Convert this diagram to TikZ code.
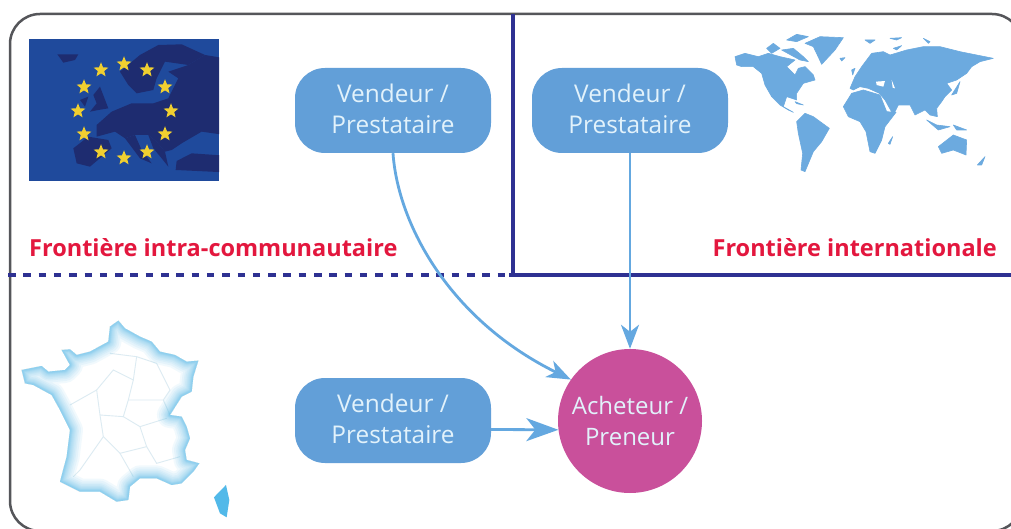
\documentclass[tikz,border=0pt]{standalone}
\usepackage{fontspec}
\setmainfont{Open Sans}
\usetikzlibrary{arrows.meta,shapes.geometric}
\definecolor{boxblue}{HTML}{629FD8}
\definecolor{arrowblue}{HTML}{64A8E0}
\definecolor{navy}{HTML}{2E3192}
\definecolor{flagblue}{HTML}{1F4A9C}
\definecolor{flagdark}{HTML}{1E2C70}
\definecolor{starcol}{HTML}{F0CF30}
\definecolor{magenta2}{HTML}{C9509B}
\definecolor{redtxt}{HTML}{E3173E}
\definecolor{labeltxt}{HTML}{E2F2FB}
\definecolor{worldblue}{HTML}{6CAADF}
\definecolor{framecol}{HTML}{55565A}
\definecolor{franceedge}{HTML}{52B9E9}
\definecolor{franceline}{HTML}{DCEBF2}
\tikzset{
  sellerbox/.style={fill=boxblue,rounded corners=30pt,minimum width=196pt,minimum height=85pt,inner sep=0pt,align=center,text=labeltxt,text depth=3pt,font=\fontsize{24.4}{31}\selectfont},
  buyernode/.style={circle,fill=magenta2,minimum size=144pt,inner sep=0pt,align=center,text=labeltxt,font=\fontsize{24}{30.5}\selectfont},
  border/.style={navy,line width=3.5pt},
  flow/.style={arrowblue,line width=2.8pt,-{Stealth[length=24pt,width=18pt,inset=7pt]}},
  flowbig/.style={arrowblue,line width=2.8pt,-{Stealth[length=32pt,width=23pt,inset=9pt]}},
  redlabel/.style={text=redtxt,font=\fontsize{23.5}{28}\selectfont\bfseries,inner sep=0pt},
  flagstar/.style={star,star points=5,star point ratio=2.3,fill=starcol,minimum size=15.5pt,inner sep=0pt},
  land/.style={fill=worldblue,draw=worldblue,line width=.6pt,line join=round},
  hole/.style={fill=white},
  euland/.style={fill=flagdark}
}
\begin{document}
\begin{tikzpicture}[x=1pt,y=-1pt]
\useasboundingbox (0,0) rectangle (1011,529);
\fill[white] (0,0) rectangle (1011,529);
\begin{scope}
\clip (0,0) rectangle (1011,529);
\draw[framecol,line width=2.5pt,rounded corners=30pt] (1022,531) -- (10,531) -- (10,14) -- (1022,14) -- cycle;
\end{scope}
% EU flag
\fill[flagblue] (29,39) rectangle (219,181);
\begin{scope}
\clip (29,39) rectangle (219,181);
\begin{scope}[x=.3333pt,y=-.3333pt,xshift=25pt,yshift=-35pt]
\fill[euland] (97,58) -- (160,58) -- (150,75) -- (115,83) -- cycle;
\fill[euland] (285,110) -- (345,60) -- (400,30) -- (470,28) -- (540,60) -- (490,90) -- (420,80) -- (395,130) -- (385,165) -- (335,175) -- (310,150) -- cycle;
\fill[euland] (540,60) -- (600,70) -- (600,300) -- (530,290) -- (470,325) -- (440,345) -- (420,350) -- (395,320) -- (370,300) -- (330,300) -- (300,310) -- (270,290) -- (215,305) -- (215,270) -- (260,230) -- (320,205) -- (385,205) -- (430,190) -- (460,130) -- (430,110) -- (490,90) -- cycle;
\fill[euland] (205,180) -- (225,155) -- (250,220) -- (220,225) -- (195,230) -- (215,205) -- cycle;
\fill[euland] (165,195) -- (190,185) -- (180,215) -- cycle;
\fill[euland] (145,340) -- (190,305) -- (250,315) -- (260,340) -- (195,395) -- (155,385) -- cycle;
\fill[euland] (300,310) -- (330,300) -- (350,345) -- (380,385) -- (345,370) -- cycle;
\fill[euland] (370,300) -- (395,320) -- (420,350) -- (430,395) -- (410,370) -- (385,340) -- cycle;
\fill[euland] (455,378) -- (500,355) -- (600,362) -- (600,412) -- (452,405) -- cycle;
\end{scope}
\end{scope}
\foreach \n/\sx/\sy in {a/124/64,b/147/70,c/165/87,d/171/111,e/165/134,f/147/152,g/124/158,h/101/152,i/84/134,j/78/111,k/84/87,l/101/70}
  \node[flagstar] (s\n) at (\sx,\sy) {};
% World map, west
\begin{scope}[x=.3333pt,y=-.3333pt,xshift=730pt,yshift=-25pt]
\fill[land] (15,95) -- (45,85) -- (85,95) -- (115,85) -- (150,95) -- (195,105) -- (170,125) -- (195,150) -- (205,130) -- (225,125) -- (250,150) -- (255,165) -- (220,175) -- (200,205) -- (200,225) -- (170,215) -- (160,245) -- (190,262) -- (175,255) -- (150,240) -- (125,215) -- (105,180) -- (95,145) -- (70,125) -- (35,125) -- (20,120) -- cycle;
\fill[land] (225,55) -- (270,35) -- (340,38) -- (315,75) -- (275,118) -- (262,90) -- (250,65) -- cycle;
\fill[land] (170,45) -- (200,28) -- (235,35) -- (200,50) -- cycle;
\fill[land] (110,70) -- (130,55) -- (150,70) -- (125,85) -- cycle;
\fill[land] (155,75) -- (190,70) -- (220,95) -- (235,110) -- (210,105) -- cycle;
\fill[land] (200,290) -- (225,265) -- (250,275) -- (298,310) -- (275,350) -- (250,380) -- (225,440) -- (213,435) -- (218,385) -- (205,325) -- cycle;
\fill[land] (195,230) -- (220,240) -- (200,236) -- cycle;
\end{scope}
% World map, east
\begin{scope}[x=.3333pt,y=-.3333pt,xshift=840pt,yshift=-25pt]
\fill[land] (10,245) -- (35,205) -- (70,195) -- (120,210) -- (140,260) -- (168,262) -- (135,305) -- (125,345) -- (105,385) -- (90,380) -- (78,320) -- (60,290) -- (25,275) -- cycle;
\fill[land] (145,355) -- (158,335) -- (150,358) -- cycle;
\fill[land] (30,190) -- (45,155) -- (65,125) -- (95,85) -- (130,80) -- (150,90) -- (200,75) -- (250,65) -- (300,65) -- (360,80) -- (460,100) -- (420,110) -- (395,125) -- (380,145) -- (350,165) -- (320,175) -- (335,195) -- (315,215) -- (305,230) -- (290,250) -- (292,275) -- (270,270) -- (255,255) -- (225,270) -- (210,240) -- (175,240) -- (160,270) -- (135,225) -- (118,205) -- (85,190) -- (60,185) -- (40,195) -- cycle;
\fill[hole] (108,170) -- (135,168) -- (130,185) -- (110,180) -- cycle;
\fill[hole] (155,165) -- (165,190) -- (158,188) -- cycle;
\fill[land] (295,365) -- (340,330) -- (380,345) -- (378,390) -- (340,375) -- (305,385) -- cycle;
\fill[land] (260,285) -- (295,315) -- (330,305) -- (290,300) -- cycle;
\fill[land] (340,300) -- (380,315) -- (350,315) -- cycle;
\fill[land] (412,420) -- (435,395) -- (425,420) -- cycle;
\fill[land] (360,170) -- (335,210) -- (350,205) -- cycle;
\fill[land] (35,135) -- (45,130) -- (38,150) -- cycle;
\fill[land] (0,100) -- (15,98) -- (5,108) -- cycle;
\fill[land] (75,45) -- (105,45) -- (90,55) -- cycle;
\fill[land] (150,40) -- (185,38) -- (170,45) -- cycle;
\fill[land] (250,40) -- (270,50) -- (265,55) -- cycle;
\fill[land] (160,70) -- (185,62) -- (170,75) -- cycle;
\end{scope}
% France
\begin{scope}[x=.3333pt,y=-.3333pt,yshift=-290pt]
\def\francepath{(330,110) -- (355,92) -- (375,115) -- (420,140) -- (455,155) -- (480,185) -- (525,195) -- (560,215) -- (595,212) -- (580,260) -- (575,305) -- (545,320) -- (510,375) -- (545,380) -- (560,410) -- (570,445) -- (555,480) -- (560,510) -- (598,520) -- (580,545) -- (545,580) -- (515,585) -- (470,565) -- (420,565) -- (390,590) -- (385,630) -- (350,635) -- (300,605) -- (240,605) -- (180,575) -- (200,500) -- (210,420) -- (180,360) -- (155,315) -- (100,285) -- (75,280) -- (65,240) -- (125,228) -- (145,245) -- (195,240) -- (210,225) -- (185,180) -- (210,178) -- (230,195) -- (270,185) -- (325,155) -- cycle}
\begin{scope}
\clip \francepath;
\fill[white] (0,0) rectangle (700,700);
\draw[franceline,line width=.9pt] (210,345) -- (290,300) -- (340,240) -- (400,270) -- (410,200) -- (330,190);
\draw[franceline,line width=.9pt] (400,270) -- (385,330) -- (370,380) -- (300,375) -- (290,300);
\draw[franceline,line width=.9pt] (385,330) -- (490,330) -- (510,375);
\draw[franceline,line width=.9pt] (300,375) -- (310,440) -- (360,490) -- (440,470) -- (420,410) -- (370,380);
\draw[franceline,line width=.9pt] (420,410) -- (500,385);
\draw[franceline,line width=.9pt] (310,440) -- (240,540) -- (220,560);
\draw[franceline,line width=.9pt] (360,490) -- (400,560);
\draw[franceline,line width=.9pt] (440,470) -- (470,520) -- (540,500);
\draw[franceline,line width=.9pt] (410,200) -- (470,220) -- (510,300) -- (490,330);
\foreach \w in {26,22,18,15,12,10,8,6,5,4,3,2}
  \draw[franceedge,opacity=.08,line width=\w pt,line join=round] \francepath;
\end{scope}
\fill[franceedge] (642,622) -- (678,585) -- (688,630) -- (680,682) -- (660,670) -- cycle;
\end{scope}
% Borders
\draw[border,dash pattern=on 7.5pt off 7.8pt] (8,275) -- (510,275);
\draw[border] (513,14) -- (513,275);
\draw[border] (509,275) -- (1011,275);
% Nodes
\node[sellerbox] (v1) at (393,110.5) {Vendeur /\\Prestataire};
\node[sellerbox] (v2) at (630,110.5) {Vendeur /\\Prestataire};
\node[sellerbox] (v3) at (393,420.5) {Vendeur /\\Prestataire};
\node[buyernode] (b) at (630,421) {Acheteur /\\Preneur};
\node[redlabel,anchor=base west] (l1) at (29,256) {Frontière intra-communautaire};
\node[redlabel,anchor=base east] (l2) at (997,256) {Frontière internationale};
% Connectors
\draw[flow] (v1.south) .. controls (398,225) and (450,320) .. (b.145);
\draw[flow] (v2.south) -- (b.north);
\draw[flowbig] ([yshift=-9pt]v3.east) -- (b.187);
\end{tikzpicture}
\end{document}
